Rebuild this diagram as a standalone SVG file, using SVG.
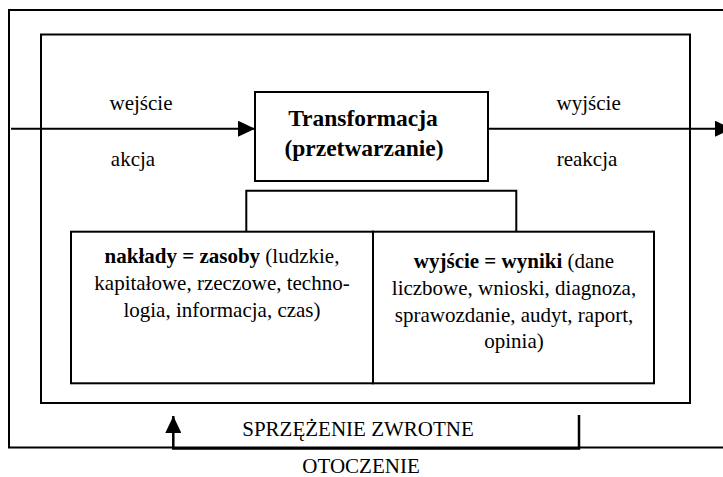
<svg xmlns="http://www.w3.org/2000/svg" width="723" height="477" viewBox="0 0 723 477">
<style>
.box{fill:none;stroke:#000;stroke-width:2}
.ln{fill:none;stroke:#000;stroke-width:2}
text{font-family:'Liberation Serif','Times New Roman',Tinos,'DejaVu Serif',serif;font-size:21px;fill:#000}
.c{text-anchor:middle}
.b{font-weight:bold}
.t{font-size:23.5px;font-weight:bold}
</style>
<defs>
<marker id="ah" markerWidth="17" markerHeight="16" refX="17" refY="8" orient="auto" markerUnits="userSpaceOnUse">
<path d="M0,0 L17,8 L0,16 Z" fill="#000"/>
</marker>
</defs>
<rect width="723" height="477" fill="#fff"/>
<g id="otoczenie" font-family="Liberation Serif, serif">
<path class="box" d="M740,10 L9,10 L9,447.5 L740,447.5"/>
<text class="c" x="361" y="473">OTOCZENIE</text>
</g>
<g id="system">
<rect class="box" x="41" y="34.5" width="649" height="368.5"/>
</g>
<g id="transformacja">
<rect class="box" x="255" y="92" width="233" height="89"/>
<text class="t c" x="363" y="125.5">Transformacja</text>
<text class="t c" x="364" y="155.5">(przetwarzanie)</text>
</g>
<g id="naklady">
<rect class="box" x="71" y="231.7" width="302" height="151.6"/>
<text class="c" x="222" y="262.5"><tspan class="b">nakłady = zasoby</tspan> (ludzkie,</text>
<text class="c" x="222" y="289.5">kapitałowe, rzeczowe, techno-</text>
<text class="c" x="222" y="316.5">logia, informacja, czas)</text>
</g>
<g id="wyniki">
<rect class="box" x="373" y="231.7" width="281" height="151.6"/>
<text class="c" x="514" y="268"><tspan class="b">wyjście = wyniki</tspan> (dane</text>
<text class="c" x="514" y="295">liczbowe, wnioski, diagnoza,</text>
<text class="c" x="514" y="321.7">sprawozdanie, audyt, raport,</text>
<text class="c" x="514" y="348.3">opinia)</text>
</g>
<g id="connectors">
<line class="ln" x1="11" y1="128.7" x2="255" y2="128.7" marker-end="url(#ah)"/>
<line class="ln" x1="488" y1="128.7" x2="732" y2="128.7" marker-end="url(#ah)"/>
<path class="ln" d="M246.3,231.7 L246.3,190.7 L516.3,190.7 L516.3,231.7"/>
<path class="ln" d="M579,415 L579,448.5 L173.3,448.5 L173.3,416" marker-end="url(#ah)" style="stroke-width:2.5"/>
<text class="c" x="358" y="436">SPRZĘŻENIE ZWROTNE</text>
<text class="c" x="141" y="110">wejście</text>
<text class="c" x="133" y="165.5">akcja</text>
<text class="c" x="588.7" y="110">wyjście</text>
<text class="c" x="587" y="165.5">reakcja</text>
</g>
</svg>
